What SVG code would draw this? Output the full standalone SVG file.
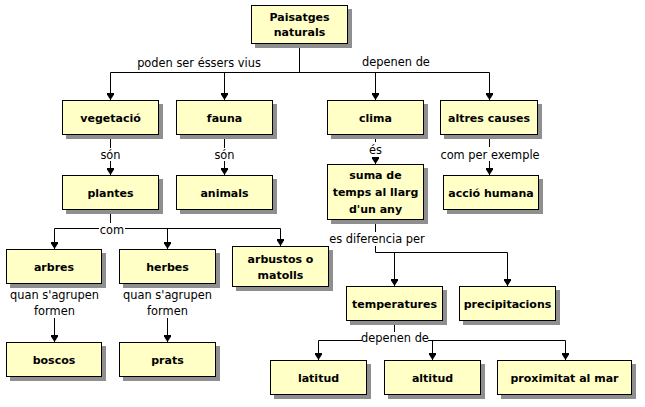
<svg xmlns="http://www.w3.org/2000/svg" width="645" height="407" viewBox="0 0 645 407">
<style>
.sh{fill:#8f8f8f}
.bx{fill:#ffffc6;stroke:#000;stroke-width:1}
.t{font-family:"DejaVu Sans",sans-serif;font-weight:bold;font-size:11px;text-anchor:middle;fill:#000}
.l{font-family:"DejaVu Sans",sans-serif;font-size:11.4px;text-anchor:middle;fill:#000}
.bg{fill:#fff}
.c{fill:none;stroke:#000;stroke-width:1}
</style>
<defs>
<marker id="a" markerUnits="userSpaceOnUse" markerWidth="8" markerHeight="8" refX="7" refY="3.5" orient="auto">
<path d="M0,0 L1.5,0 L7,3.5 L1.5,7 L0,7 z" fill="#000"/>
</marker>
</defs>
<rect width="645" height="407" fill="#fff"/>
<g id="connectors">
<path class="c" d="M299.5,44 V72.5 M110.5,72.5 H489.5"/>
<path class="c" marker-end="url(#a)" d="M110.5,72.5 V100"/>
<path class="c" marker-end="url(#a)" d="M224.5,72.5 V100"/>
<path class="c" marker-end="url(#a)" d="M375.5,72.5 V100"/>
<path class="c" marker-end="url(#a)" d="M489.5,72.5 V100"/>
<path class="c" marker-end="url(#a)" d="M110.5,134 V175"/>
<path class="c" marker-end="url(#a)" d="M224.5,134 V175"/>
<path class="c" marker-end="url(#a)" d="M375.5,134 V164"/>
<path class="c" marker-end="url(#a)" d="M489.5,134 V175"/>
<path class="c" d="M110.5,209 V228.5 M54.5,228.5 H280.5"/>
<path class="c" marker-end="url(#a)" d="M54.5,228.5 V249"/>
<path class="c" marker-end="url(#a)" d="M167.5,228.5 V249"/>
<path class="c" marker-end="url(#a)" d="M280.5,228.5 V246"/>
<path class="c" marker-end="url(#a)" d="M54.5,283 V342"/>
<path class="c" marker-end="url(#a)" d="M167.5,283 V342"/>
<path class="c" d="M375.5,219 V252.5 H507.5"/>
<path class="c" marker-end="url(#a)" d="M394.5,252.5 V286"/>
<path class="c" marker-end="url(#a)" d="M507.5,252.5 V286"/>
<path class="c" d="M394.5,320 V340.5 M318.5,340.5 H565.5"/>
<path class="c" marker-end="url(#a)" d="M318.5,340.5 V360"/>
<path class="c" marker-end="url(#a)" d="M432.5,340.5 V360"/>
<path class="c" marker-end="url(#a)" d="M565.5,340.5 V360"/>
<rect class="bg" x="100" y="148" width="21" height="13"/>
<rect class="bg" x="214" y="148" width="21" height="13"/>
<rect class="bg" x="368" y="142" width="15" height="15"/>
<rect class="bg" x="440" y="147" width="100" height="14"/>
<rect class="bg" x="99" y="223" width="26" height="13"/>
<rect class="bg" x="11" y="288" width="87" height="30"/>
<rect class="bg" x="124" y="288" width="87" height="30"/>
<rect class="bg" x="329" y="232" width="96" height="14"/>
<rect class="bg" x="362" y="332" width="66" height="13"/>
<text class="l" x="199" y="67">poden ser éssers vius</text>
<text class="l" x="396" y="65.5">depenen de</text>
<text class="l" x="110.5" y="159">són</text>
<text class="l" x="224.5" y="159">són</text>
<text class="l" x="375.5" y="154">és</text>
<text class="l" x="490" y="159">com per exemple</text>
<text class="l" x="112" y="234">com</text>
<text class="l" x="54.5" y="299">quan s'agrupen</text>
<text class="l" x="54.5" y="315">formen</text>
<text class="l" x="167.5" y="299">quan s'agrupen</text>
<text class="l" x="167.5" y="315">formen</text>
<text class="l" x="377" y="243">es diferencia per</text>
<text class="l" x="395" y="342">depenen de</text>
</g>
<g id="paisatges"><rect class="sh" x="255" y="9" width="97" height="39"/><rect class="bx" x="251.5" y="5.5" width="96" height="38"/><text class="t" x="299.5" y="20.5">Paisatges</text><text class="t" x="299.5" y="36">naturals</text></g>
<g id="vegetacio"><rect class="sh" x="66" y="104" width="97" height="35"/><rect class="bx" x="62.5" y="100.5" width="96" height="34"/><text class="t" x="110.5" y="121.5">vegetació</text></g>
<g id="fauna"><rect class="sh" x="180" y="104" width="97" height="35"/><rect class="bx" x="176.5" y="100.5" width="96" height="34"/><text class="t" x="224.5" y="121.5">fauna</text></g>
<g id="clima"><rect class="sh" x="331" y="104" width="97" height="35"/><rect class="bx" x="327.5" y="100.5" width="96" height="34"/><text class="t" x="375.5" y="121.5">clima</text></g>
<g id="altres"><rect class="sh" x="444" y="104" width="98" height="35"/><rect class="bx" x="440.5" y="100.5" width="97" height="34"/><text class="t" x="489" y="121.5">altres causes</text></g>
<g id="plantes"><rect class="sh" x="66" y="179" width="97" height="35"/><rect class="bx" x="62.5" y="175.5" width="96" height="34"/><text class="t" x="110.5" y="196.5">plantes</text></g>
<g id="animals"><rect class="sh" x="180" y="179" width="97" height="35"/><rect class="bx" x="176.5" y="175.5" width="96" height="34"/><text class="t" x="224.5" y="196.5">animals</text></g>
<g id="suma"><rect class="sh" x="331" y="168" width="97" height="56"/><rect class="bx" x="327.5" y="164.5" width="96" height="55"/><text class="t" x="375.5" y="179">suma de</text><text class="t" x="375.5" y="196">temps al llarg</text><text class="t" x="375.5" y="212.5">d'un any</text></g>
<g id="accio"><rect class="sh" x="447" y="179" width="96" height="35"/><rect class="bx" x="443.5" y="175.5" width="95" height="34"/><text class="t" x="491" y="196.5">acció humana</text></g>
<g id="arbres"><rect class="sh" x="10" y="253" width="96" height="35"/><rect class="bx" x="6.5" y="249.5" width="95" height="34"/><text class="t" x="54" y="270.5">arbres</text></g>
<g id="herbes"><rect class="sh" x="123" y="253" width="97" height="35"/><rect class="bx" x="119.5" y="249.5" width="96" height="34"/><text class="t" x="167.5" y="270.5">herbes</text></g>
<g id="arbustos"><rect class="sh" x="236" y="250" width="97" height="41"/><rect class="bx" x="232.5" y="246.5" width="96" height="40"/><text class="t" x="280.5" y="263">arbustos o</text><text class="t" x="280.5" y="278.5">matolls</text></g>
<g id="boscos"><rect class="sh" x="10" y="346" width="96" height="35"/><rect class="bx" x="6.5" y="342.5" width="95" height="34"/><text class="t" x="54" y="363.5">boscos</text></g>
<g id="prats"><rect class="sh" x="123" y="346" width="97" height="35"/><rect class="bx" x="119.5" y="342.5" width="96" height="34"/><text class="t" x="167.5" y="363.5">prats</text></g>
<g id="temperatures"><rect class="sh" x="350" y="290" width="97" height="35"/><rect class="bx" x="346.5" y="286.5" width="96" height="34"/><text class="t" x="394.5" y="307.5">temperatures</text></g>
<g id="precipitacions"><rect class="sh" x="463" y="290" width="97" height="35"/><rect class="bx" x="459.5" y="286.5" width="96" height="34"/><text class="t" x="507.5" y="307.5">precipitacions</text></g>
<g id="latitud"><rect class="sh" x="274" y="364" width="97" height="35"/><rect class="bx" x="270.5" y="360.5" width="96" height="34"/><text class="t" x="318.5" y="381.5">latitud</text></g>
<g id="altitud"><rect class="sh" x="388" y="364" width="97" height="35"/><rect class="bx" x="384.5" y="360.5" width="96" height="34"/><text class="t" x="432.5" y="381.5">altitud</text></g>
<g id="proximitat"><rect class="sh" x="501" y="364" width="135" height="35"/><rect class="bx" x="497.5" y="360.5" width="134" height="34"/><text class="t" x="564.5" y="381.5">proximitat al mar</text></g>
</svg>
